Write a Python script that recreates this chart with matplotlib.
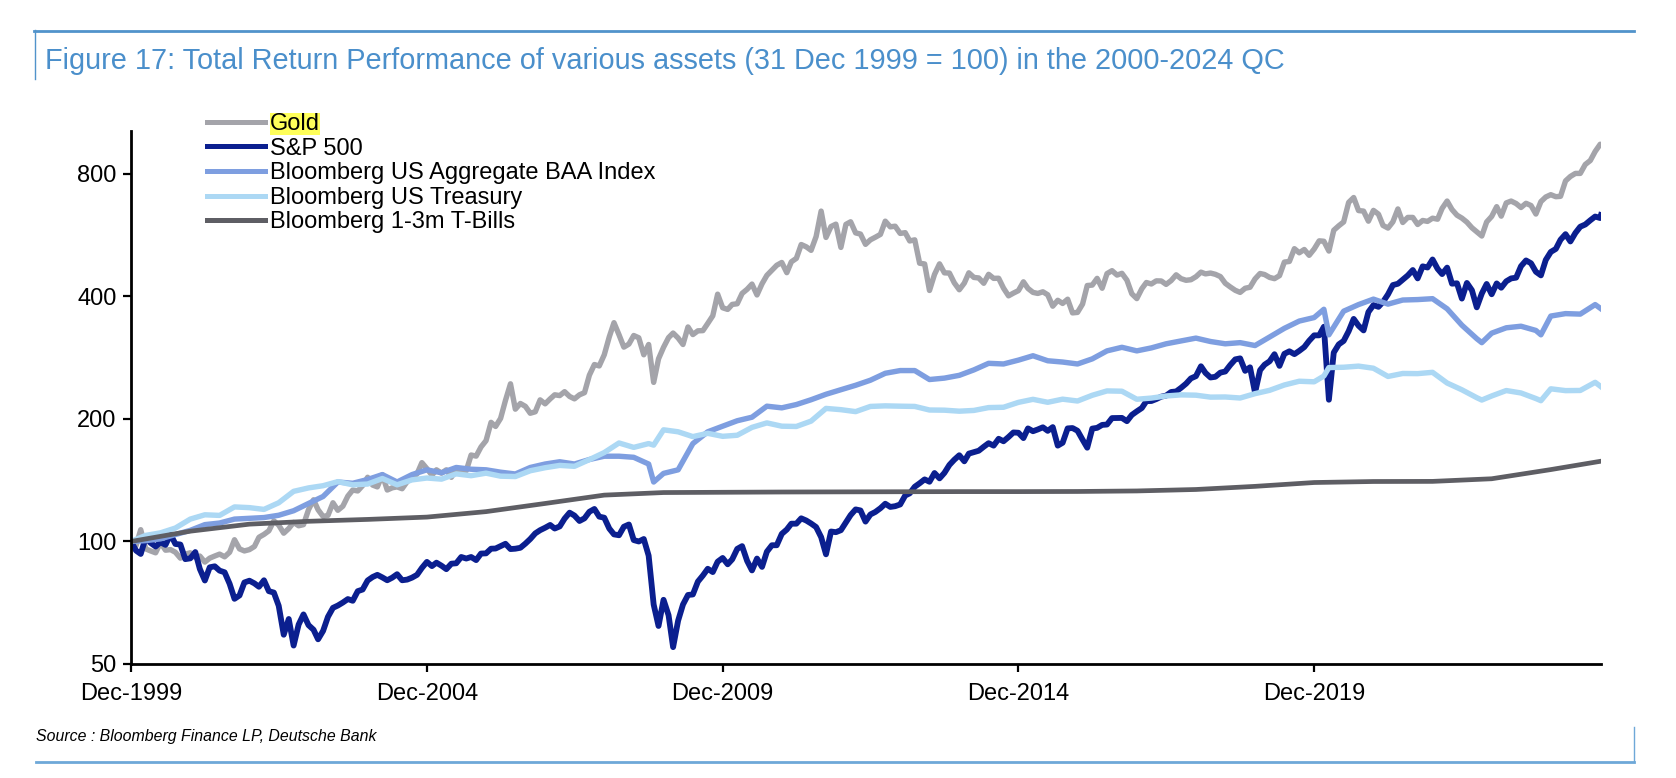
import matplotlib
matplotlib.use("Agg")
import matplotlib.pyplot as plt
from matplotlib.lines import Line2D
import numpy as np
import pandas as pd

"""Total return performance of various assets, 31 Dec 1999 = 100 (log scale)"""

plt.rcParams['font.family'] = ['Liberation Sans', 'DejaVu Sans']

#==================== data ====================#
# monthly points, Dec-1999 .. Oct-2024, plus the last print (5 Nov 2024)
monthly_dates = list(pd.date_range('1999-12-31', '2024-10-31', freq='ME')) + [pd.Timestamp('2024-11-05')]

sp500 = [100.0,
    95.0, 93.2, 102.3, 99.2, 97.2, 99.6, 98.1, 104.1, 98.6, 98.3, 90.5, 90.9,
    94.2, 85.6, 80.2, 86.4, 86.9, 84.8, 84.0, 78.7, 72.3, 73.7, 79.3, 80.1,
    78.9, 77.4, 80.3, 75.5, 74.9, 69.5, 59.0, 64.5, 55.5, 62.5, 66.2, 62.3,
    60.7, 57.5, 60.3, 65.3, 68.7, 69.6, 70.8, 72.2, 71.5, 75.5, 76.2, 80.2,
    81.8, 82.8, 81.6, 80.3, 81.5, 83.1, 80.3, 80.6, 81.5, 82.8, 86.1, 89.1,
    87.0, 88.7, 87.2, 85.5, 88.2, 88.4, 91.6, 90.8, 91.6, 90.0, 93.4, 93.5,
    96.0, 96.1, 97.4, 98.7, 95.8, 96.0, 96.5, 98.8, 101.4, 104.7, 106.6, 108.1,
    109.8, 107.6, 108.9, 113.8, 117.7, 115.8, 112.3, 114.0, 118.3, 120.2, 115.1, 114.4,
    107.6, 104.1, 103.6, 108.7, 110.1, 100.8, 100.0, 101.4, 92.3, 70.0, 62.0, 71.9,
    65.9, 55.0, 63.9, 70.0, 73.9, 74.1, 79.7, 82.5, 85.7, 84.1, 89.2, 91.1,
    87.9, 90.4, 95.9, 97.4, 89.6, 84.9, 90.8, 86.6, 94.4, 97.9, 97.9, 104.4,
    107.0, 110.6, 110.6, 114.0, 112.6, 110.7, 108.5, 102.5, 93.0, 105.8, 105.4, 106.6,
    111.4, 116.1, 119.9, 119.2, 111.9, 116.5, 118.2, 120.7, 123.8, 121.6, 122.1, 123.3,
    129.7, 131.3, 136.3, 139.0, 142.1, 140.2, 147.3, 142.9, 147.4, 154.2, 158.8, 162.9,
    157.4, 164.4, 165.8, 167.1, 170.9, 174.4, 172.0, 178.8, 176.3, 180.6, 185.3, 185.0,
    179.5, 189.6, 186.6, 188.5, 190.8, 187.0, 191.0, 172.0, 174.8, 189.6, 190.0, 187.1,
    177.9, 170.0, 189.4, 190.2, 193.4, 193.8, 201.0, 201.1, 201.2, 197.5, 204.6, 208.8,
    212.8, 221.2, 221.4, 223.8, 226.9, 228.3, 233.0, 233.7, 238.5, 244.2, 251.6, 254.8,
    269.5, 259.5, 252.9, 253.9, 260.0, 261.6, 271.4, 280.2, 281.8, 262.6, 267.9, 232.0,
    263.6, 271.9, 277.2, 288.5, 270.1, 289.1, 293.3, 288.6, 294.0, 300.4, 311.3, 321.0,
    321.0, 337.0, 223.0, 291.2, 305.0, 311.0, 328.6, 352.3, 339.0, 330.1, 366.3, 380.9,
    377.2, 387.8, 404.8, 426.6, 429.8, 439.9, 450.5, 464.5, 443.0, 474.3, 471.2, 493.1,
    467.8, 454.0, 470.9, 430.0, 430.9, 395.2, 431.8, 414.3, 376.1, 406.6, 429.3, 405.0,
    430.6, 420.2, 435.8, 443.0, 444.9, 474.6, 490.4, 482.6, 460.0, 450.7, 491.8, 514.6,
    523.4, 551.2, 569.0, 546.0, 572.9, 593.5, 601.0, 615.5, 628.7, 623.3,
    634.0]

gold = [100.0,
    97.6, 106.9, 95.9, 94.8, 93.8, 99.3, 95.2, 95.5, 94.1, 91.0, 93.1, 93.8,
    91.4, 92.1, 89.0, 91.0, 92.1, 93.1, 91.7, 94.1, 101.0, 95.9, 94.8, 95.5,
    97.2, 102.4, 104.1, 106.2, 112.4, 109.7, 104.8, 107.6, 111.4, 109.3, 110.0, 119.7,
    126.6, 119.7, 115.2, 115.9, 124.5, 119.3, 122.1, 129.3, 133.8, 133.1, 137.2, 143.8,
    137.6, 136.2, 145.9, 133.8, 135.5, 136.2, 134.8, 140.3, 143.1, 146.6, 156.2, 151.0,
    145.5, 150.0, 147.2, 150.0, 143.8, 150.7, 147.9, 149.3, 163.1, 162.1, 170.7, 176.9,
    196.2, 191.7, 200.7, 222.1, 244.0, 211.4, 218.3, 214.8, 206.6, 208.3, 222.8, 217.9,
    224.1, 229.3, 228.3, 233.4, 227.2, 224.1, 229.3, 232.1, 256.2, 272.1, 270.0, 287.6,
    318.3, 344.8, 322.1, 300.3, 305.5, 320.7, 316.6, 287.6, 304.8, 246.0, 281.0, 300.0,
    316.9, 325.2, 316.2, 304.8, 336.6, 322.4, 329.3, 329.7, 343.4, 358.6, 405.2, 375.2,
    371.7, 382.4, 383.8, 406.9, 416.6, 429.0, 403.4, 429.7, 450.7, 464.1, 477.2, 484.8,
    457.6, 486.6, 496.2, 536.6, 529.7, 519.3, 561.4, 648.3, 558.6, 594.1, 602.1, 527.9,
    601.4, 610.3, 573.1, 569.3, 537.2, 551.0, 559.3, 568.3, 612.4, 593.1, 595.2, 571.4,
    573.8, 547.6, 551.0, 482.8, 480.7, 413.8, 453.1, 481.0, 457.2, 456.6, 432.1, 415.5,
    431.4, 457.2, 445.5, 444.1, 431.0, 453.4, 443.1, 443.4, 419.3, 401.4, 407.6, 413.4,
    434.5, 418.6, 409.3, 406.9, 410.7, 403.8, 378.6, 391.4, 384.5, 393.8, 364.5, 365.5,
    383.1, 425.5, 426.6, 443.1, 419.0, 455.2, 462.8, 451.4, 455.9, 438.6, 406.2, 395.2,
    417.9, 432.8, 429.3, 436.9, 436.6, 428.3, 437.6, 452.1, 442.4, 438.3, 439.7, 447.2,
    459.0, 454.5, 456.6, 453.4, 447.6, 431.0, 422.1, 414.1, 409.3, 419.0, 421.4, 441.7,
    455.5, 452.8, 445.5, 442.4, 450.0, 485.9, 487.6, 524.1, 512.1, 521.7, 504.8, 523.1,
    547.9, 546.6, 517.2, 581.7, 596.6, 609.7, 681.0, 700.0, 650.3, 648.3, 612.4, 651.0,
    637.2, 597.9, 589.0, 610.0, 656.2, 607.9, 625.5, 625.5, 601.0, 614.8, 611.7, 622.8,
    619.3, 658.3, 686.2, 654.1, 633.4, 623.1, 609.0, 590.0, 576.6, 563.1, 609.7, 629.0,
    664.8, 630.0, 679.0, 686.2, 676.6, 661.7, 677.6, 669.0, 637.6, 684.1, 702.1, 711.4,
    703.4, 704.8, 769.0, 788.6, 802.4, 802.4, 844.1, 863.1, 908.3, 946.2,
    945.0]

# bond indices: quarter ends plus a few turning points
bond_months = ['1999-12',
    '2000-03', '2000-06', '2000-09', '2000-12', '2001-03', '2001-06', '2001-09', '2001-12',
    '2002-03', '2002-06', '2002-09', '2002-12', '2003-03', '2003-06', '2003-09', '2003-12',
    '2004-03', '2004-06', '2004-09', '2004-12', '2005-03', '2005-06', '2005-09', '2005-12',
    '2006-03', '2006-06', '2006-09', '2006-12', '2007-03', '2007-06', '2007-09', '2007-12',
    '2008-03', '2008-06', '2008-09', '2008-10', '2008-12',
    '2009-03', '2009-06', '2009-09', '2009-12', '2010-03', '2010-06', '2010-09', '2010-12',
    '2011-03', '2011-06', '2011-09', '2011-12', '2012-03', '2012-06', '2012-09', '2012-12',
    '2013-03', '2013-06', '2013-09', '2013-12', '2014-03', '2014-06', '2014-09', '2014-12',
    '2015-03', '2015-06', '2015-09', '2015-12', '2016-03', '2016-06', '2016-09', '2016-12',
    '2017-03', '2017-06', '2017-09', '2017-12', '2018-03', '2018-06', '2018-09', '2018-12',
    '2019-03', '2019-06', '2019-09', '2019-12',
    '2020-02', '2020-03', '2020-06', '2020-09', '2020-12',
    '2021-03', '2021-06', '2021-09', '2021-12',
    '2022-03', '2022-06', '2022-09', '2022-10', '2022-12',
    '2023-03', '2023-06', '2023-09', '2023-10', '2023-12',
    '2024-03', '2024-06', '2024-09']
bond_last = '2024-11-05'

baa = [100.0,
    100.5, 101.5, 104.0, 106.5, 110.0, 111.0, 113.5, 114.0,
    114.5, 116.0, 119.0, 124.0, 129.0, 140.0, 139.0, 142.0,
    146.0, 140.0, 146.0, 150.0, 147.5, 152.0, 150.5, 150.0,
    148.0, 146.5, 152.0, 155.0, 157.0, 155.0, 159.0, 162.0,
    162.0, 161.0, 155.0, 140.0, 147.0,
    150.0, 174.0, 186.0, 192.0, 198.0, 202.0, 215.0, 213.0,
    217.0, 223.0, 230.0, 236.0, 242.0, 249.0, 259.0, 263.0,
    263.0, 250.0, 252.0, 256.0, 264.0, 274.0, 273.0, 279.0,
    286.0, 278.0, 276.0, 273.0, 281.0, 294.0, 300.0, 294.0,
    299.0, 306.0, 311.0, 316.0, 310.0, 306.0, 308.0, 303.0,
    318.0, 334.0, 348.0, 355.0,
    372.0, 322.0, 368.0, 382.0, 394.0,
    383.0, 392.0, 393.0, 395.0,
    373.0, 340.0, 315.0, 308.0, 325.0,
    335.0, 338.0, 330.0, 322.0, 358.0,
    363.0, 362.0, 382.0,
    373.0]

treasury = [100.0,
    103.5, 105.0, 107.9, 113.5, 116.3, 115.9, 121.6, 121.1,
    119.9, 124.5, 132.8, 135.4, 137.1, 140.3, 137.8, 138.4,
    142.8, 137.8, 141.7, 143.2, 142.3, 146.6, 145.1, 147.2,
    144.7, 144.4, 149.2, 151.8, 153.8, 153.0, 158.9, 165.4,
    174.6, 170.3, 174.0, 172.5, 188.1,
    186.0, 181.0, 184.4, 181.3, 182.4, 190.7, 195.6, 192.0,
    191.7, 197.6, 212.3, 210.8, 208.5, 214.7, 215.4, 215.0,
    214.7, 210.4, 210.2, 209.0, 209.9, 213.3, 213.7, 219.7,
    223.5, 219.8, 223.7, 221.4, 228.7, 234.4, 234.0, 223.6,
    225.1, 227.8, 229.2, 228.8, 226.3, 226.5, 225.2, 230.8,
    235.2, 242.4, 247.6, 246.8,
    255.0, 267.5, 268.0, 269.7, 266.5,
    254.4, 258.7, 258.5, 260.4,
    245.1, 235.9, 225.6, 222.6, 227.8,
    234.9, 231.7, 224.5, 221.8, 237.2,
    234.8, 235.0, 246.1,
    240.0]

# T-bills: year ends plus last print
tbill_years = list(range(1999, 2024))
tbills = [100.0, 106.0, 110.3, 112.1, 113.3, 114.8, 118.4, 124.0, 130.0, 131.9,
          132.1, 132.3, 132.4, 132.5, 132.6, 132.6, 132.7, 133.1, 134.2, 136.6,
          139.6, 140.4, 140.5, 142.6, 150.2,
          157.5]

labels = ['Gold', 'S&P 500', 'Bloomberg US Aggregate BAA Index',
          'Bloomberg US Treasury', 'Bloomberg 1-3m T-Bills']
colors = ['#a4a4aa', '#0b1f8f', '#7e9ee0', '#acd8f4', '#5e5e64']

y_ticks = [50, 100, 200, 400, 800]
x_tick_years = [1999, 2004, 2009, 2014, 2019]

#==================== dates ====================#
bond_dates = list(pd.PeriodIndex(bond_months, freq='M').to_timestamp(how='end').normalize()) + [pd.Timestamp(bond_last)]
tbill_dates = [pd.Timestamp('%d-12-31' % y) for y in tbill_years] + [pd.Timestamp(bond_last)]

#==================== figure ====================#
W, H = 1676, 778
fig = plt.figure(figsize=(W / 100, H / 100), dpi=100)
ax = fig.add_axes([131 / W, 114 / H, (1601 - 131) / W, (664 - 131) / H])

series = [(monthly_dates, gold, 3.9), (monthly_dates, sp500, 4.2),
          (bond_dates, baa, 3.9), (bond_dates, treasury, 3.9),
          (tbill_dates, tbills, 3.4)]
handles = []
for (d, v, lw), lab, c in zip(series, labels, colors):
    ln, = ax.plot(d, v, color=c, lw=lw, label=lab, solid_joinstyle='round')
    handles.append(ln)

ax.set_yscale('log')
ax.set_ylim(50, 1020)
ax.set_yticks(y_ticks)
ax.set_yticklabels([str(t) for t in y_ticks])
ax.yaxis.set_minor_locator(matplotlib.ticker.NullLocator())

ax.set_xlim(pd.Timestamp('1999-12-31'), pd.Timestamp(bond_last))
ax.set_xticks([pd.Timestamp('%d-12-31' % y) for y in x_tick_years])
ax.set_xticklabels(['Dec-%d' % y for y in x_tick_years])
ax.xaxis.set_minor_locator(matplotlib.ticker.NullLocator())

for s in ['top', 'right']:
    ax.spines[s].set_visible(False)
for s in ['left', 'bottom']:
    ax.spines[s].set_linewidth(2.0)
ax.tick_params(axis='both', direction='out', length=5.8, width=1.6, labelsize=17)
ax.tick_params(axis='y', pad=4.5)
ax.tick_params(axis='x', pad=8.0)

leg = ax.legend(handles=handles, loc='upper left',
                bbox_to_anchor=(207 / W, 1 - 113 / H), bbox_transform=fig.transFigure,
                frameon=False, fontsize=17, borderpad=0, borderaxespad=0,
                labelspacing=0.11, handlelength=2.45, handletextpad=0.2)
for ln in leg.get_lines():
    ln.set_linewidth(3.6)
leg.get_texts()[0].set_bbox(dict(boxstyle='square,pad=0', fc='#ffff5a', ec='none'))

#==================== page furniture ====================#
blue = '#5193cb'
fig.add_artist(Line2D([34 / W, 1634 / W], [1 - 30.5 / H, 1 - 30.5 / H], color=blue, lw=2.0))
fig.add_artist(Line2D([34.5 / W, 34.5 / W], [1 - 30 / H, 1 - 79 / H], color=blue, lw=1.0))
fig.text(45 / W, 1 - 60.7 / H,
         'Figure 17: Total Return Performance of various assets (31 Dec 1999 = 100) in the 2000-2024 QC',
         color='#4a8fcb', fontsize=20.8, ha='left', va='center')

fig.text(36 / W, 1 - 737 / H, 'Source : Bloomberg Finance LP, Deutsche Bank',
         fontsize=11.4, style='italic', ha='left', va='center')
fig.add_artist(Line2D([36 / W, 1634 / W], [1 - 762 / H, 1 - 762 / H], color='#6ea8d8', lw=2.0))
fig.add_artist(Line2D([1634 / W, 1634 / W], [1 - 727 / H, 1 - 762 / H], color='#6ea8d8', lw=1.0))

plt.savefig('out.png', dpi=100)
